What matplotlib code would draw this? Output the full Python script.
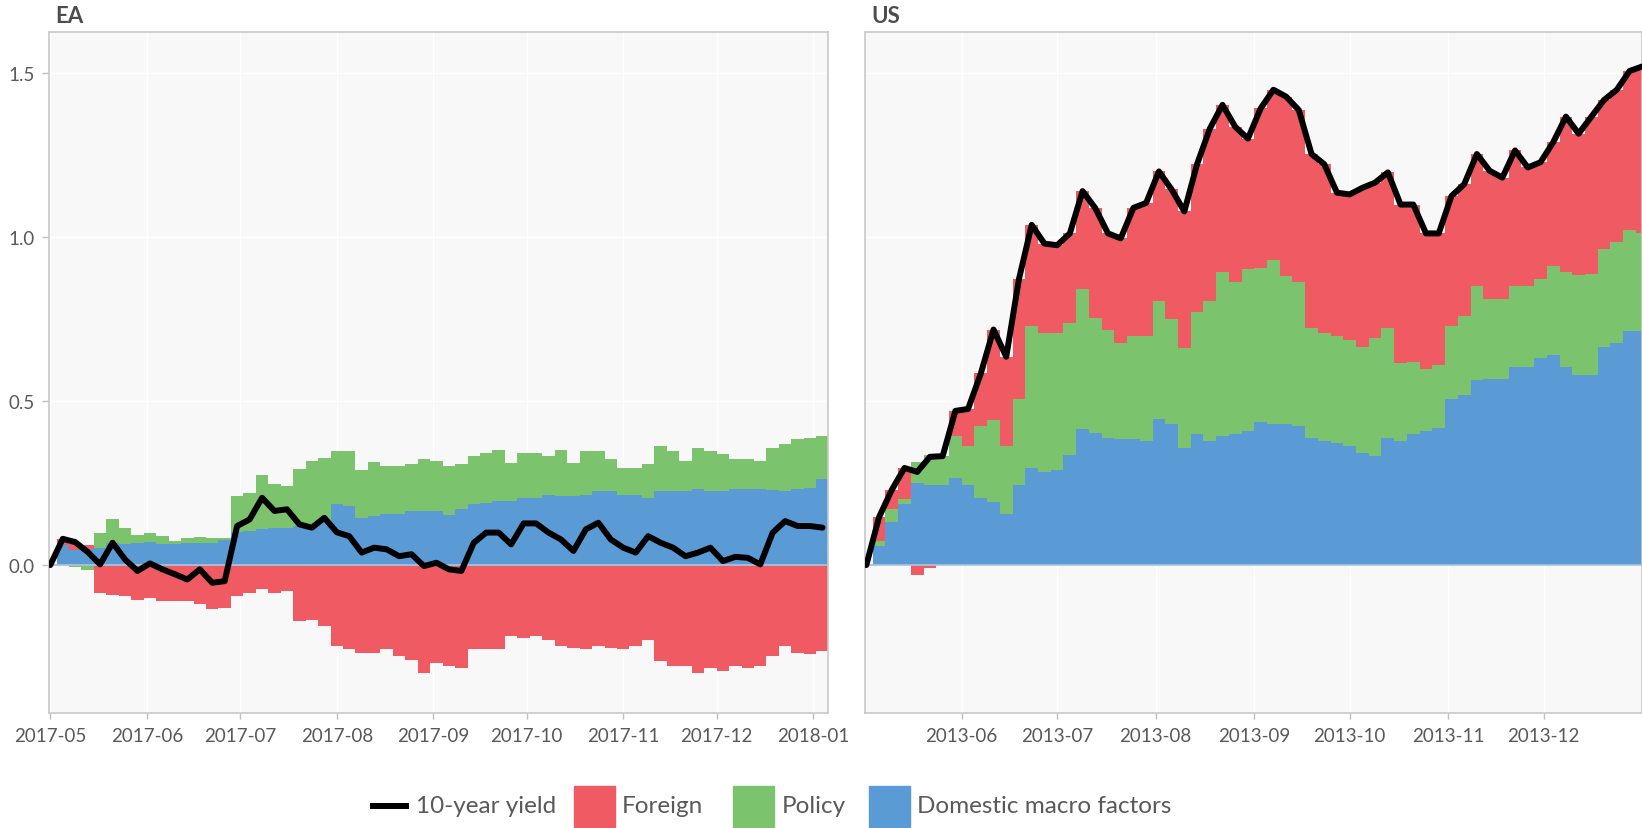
import numpy as np
import pandas as pd
import matplotlib
matplotlib.use("Agg")
import matplotlib.pyplot as plt
import matplotlib.dates as mdates
from matplotlib.lines import Line2D
from matplotlib.patches import Rectangle

plt.rcParams['font.family'] = ['Lato', 'DejaVu Sans']

# ---- EA (every 4 days from 2017-05-01) ----
ea_dates = pd.date_range('2017-05-01', periods=63, freq='4D')
ea_domestic = [0.0, 0.06, 0.045, 0.05, 0.053, 0.068, 0.063, 0.068, 0.07, 0.063,
               0.063, 0.066, 0.066, 0.068, 0.076, 0.10, 0.104, 0.109, 0.114, 0.114,
               0.119, 0.119, 0.134, 0.185, 0.18, 0.144, 0.15, 0.155, 0.155, 0.165,
               0.165, 0.165, 0.154, 0.17, 0.185, 0.19, 0.195, 0.195, 0.205, 0.205,
               0.215, 0.21, 0.21, 0.215, 0.226, 0.226, 0.215, 0.215, 0.205, 0.226,
               0.226, 0.226, 0.231, 0.226, 0.226, 0.231, 0.231, 0.231, 0.229, 0.226,
               0.231, 0.236, 0.261]
ea_policy = [0.0, 0.0, -0.005, -0.015, 0.046, 0.071, 0.051, 0.025, 0.028, 0.025,
             0.01, 0.017, 0.02, 0.015, 0.007, 0.11, 0.117, 0.167, 0.132, 0.127,
             0.173, 0.198, 0.193, 0.163, 0.168, 0.147, 0.163, 0.147, 0.147, 0.142,
             0.157, 0.152, 0.147, 0.137, 0.147, 0.152, 0.157, 0.117, 0.137, 0.137,
             0.117, 0.142, 0.102, 0.132, 0.122, 0.097, 0.081, 0.081, 0.102, 0.137,
             0.122, 0.091, 0.127, 0.122, 0.112, 0.091, 0.091, 0.086, 0.129, 0.142,
             0.152, 0.152, 0.132]
ea_foreign = [0.0, 0.02, 0.02, 0.01, -0.084, -0.09, -0.095, -0.105, -0.10, -0.11,
              -0.11, -0.11, -0.12, -0.135, -0.13, -0.095, -0.084, -0.074, -0.084, -0.08,
              -0.17, -0.166, -0.186, -0.247, -0.257, -0.267, -0.267, -0.257, -0.277, -0.288,
              -0.328, -0.298, -0.308, -0.313, -0.257, -0.257, -0.257, -0.216, -0.222, -0.216,
              -0.227, -0.247, -0.252, -0.257, -0.247, -0.252, -0.257, -0.247, -0.227, -0.293,
              -0.308, -0.308, -0.328, -0.313, -0.323, -0.308, -0.313, -0.308, -0.277, -0.247,
              -0.267, -0.272, -0.262]
ea_yield = [0.0, 0.08, 0.07, 0.04, 0.002, 0.068, 0.017, -0.018, 0.005, -0.013,
            -0.028, -0.044, -0.013, -0.054, -0.049, 0.119, 0.139, 0.205, 0.165, 0.17,
            0.124, 0.114, 0.144, 0.10, 0.088, 0.038, 0.053, 0.048, 0.027, 0.033,
            -0.003, 0.007, -0.013, -0.018, 0.068, 0.099, 0.099, 0.063, 0.127, 0.127,
            0.099, 0.078, 0.043, 0.109, 0.129, 0.078, 0.053, 0.038, 0.088, 0.068,
            0.053, 0.027, 0.038, 0.053, 0.012, 0.025, 0.022, 0.002, 0.099, 0.134,
            0.119, 0.119, 0.114]

# ---- US (every 4 days from 2013-05-02) ----
us_dates = pd.date_range('2013-05-02', periods=62, freq='4D')
us_domestic = [0.0, 0.059, 0.131, 0.187, 0.249, 0.244, 0.244, 0.265, 0.244, 0.203,
               0.193, 0.157, 0.244, 0.296, 0.285, 0.290, 0.337, 0.414, 0.404, 0.388,
               0.383, 0.383, 0.378, 0.445, 0.430, 0.357, 0.399, 0.378, 0.393, 0.399,
               0.409, 0.435, 0.430, 0.429, 0.424, 0.388, 0.378, 0.373, 0.363, 0.342,
               0.332, 0.388, 0.378, 0.399, 0.409, 0.419, 0.507, 0.517, 0.563, 0.568,
               0.568, 0.605, 0.605, 0.630, 0.640, 0.605, 0.579, 0.579, 0.666, 0.677,
               0.713, 0.713]
us_policy = [0.0, 0.015, 0.040, 0.015, 0.065, 0.090, 0.088, 0.129, 0.120, 0.221,
             0.250, 0.206, 0.262, 0.432, 0.422, 0.417, 0.402, 0.427, 0.350, 0.330,
             0.293, 0.314, 0.319, 0.360, 0.319, 0.304, 0.371, 0.427, 0.500, 0.463,
             0.494, 0.472, 0.500, 0.453, 0.438, 0.335, 0.329, 0.326, 0.324, 0.324,
             0.360, 0.335, 0.237, 0.221, 0.190, 0.190, 0.221, 0.242, 0.288, 0.242,
             0.242, 0.247, 0.247, 0.242, 0.273, 0.288, 0.306, 0.309, 0.298, 0.309,
             0.309, 0.300]
us_foreign = [0.0, 0.072, 0.058, 0.094, -0.030, -0.010, 0.0, 0.076, 0.112, 0.160,
              0.275, 0.272, 0.366, 0.309, 0.273, 0.268, 0.272, 0.300, 0.334, 0.293,
              0.320, 0.392, 0.407, 0.395, 0.396, 0.417, 0.452, 0.525, 0.510, 0.474,
              0.397, 0.485, 0.519, 0.546, 0.525, 0.530, 0.515, 0.436, 0.443, 0.484,
              0.474, 0.474, 0.484, 0.479, 0.412, 0.402, 0.397, 0.402, 0.402, 0.392,
              0.371, 0.412, 0.360, 0.356, 0.376, 0.474, 0.430, 0.479, 0.454, 0.463,
              0.484, 0.507]
us_yield = [0.0, 0.146, 0.229, 0.296, 0.284, 0.330, 0.332, 0.470, 0.476, 0.584,
            0.718, 0.635, 0.872, 1.037, 0.980, 0.975, 1.011, 1.140, 1.088, 1.011,
            0.996, 1.089, 1.104, 1.200, 1.145, 1.078, 1.222, 1.330, 1.403, 1.336,
            1.300, 1.392, 1.449, 1.428, 1.387, 1.253, 1.222, 1.135, 1.130, 1.150,
            1.166, 1.197, 1.099, 1.099, 1.011, 1.011, 1.125, 1.161, 1.253, 1.202,
            1.181, 1.264, 1.212, 1.228, 1.289, 1.367, 1.315, 1.367, 1.418, 1.449,
            1.506, 1.520]

series_names = ['Domestic macro factors', 'Policy', 'Foreign']
colors = {'Foreign': '#F05A63', 'Policy': '#7CC36E', 'Domestic macro factors': '#5B9BD5'}
text_color = '#595959'

W, H = 1642, 829
fig = plt.figure(figsize=(W / 100, H / 100), dpi=100)
ax_ea = fig.add_axes([49 / W, 115 / H, 779 / W, 681 / H])
ax_us = fig.add_axes([865 / W, 115 / H, 777 / W, 681 / H])


def draw(ax, dates, comps, yld, x0, x1, title, show_y):
    x = mdates.date2num(dates)
    pos = np.zeros(len(x))
    neg = np.zeros(len(x))
    for name, vals in zip(series_names, comps):
        v = np.array(vals)
        bottom = np.where(v >= 0, pos, neg)
        ax.bar(x, v, bottom=bottom, width=4.0, color=colors[name],
               linewidth=0, zorder=2)
        pos = pos + np.clip(v, 0, None)
        neg = neg + np.clip(v, None, 0)
    ax.axhline(0, color='#a9c1dc', lw=1.3, zorder=3)
    ax.plot(x, yld, color='black', lw=4.3, solid_joinstyle='round',
            solid_capstyle='round', zorder=4)

    ax.set_facecolor('#f8f8f8')
    ax.set_xlim(mdates.date2num(pd.Timestamp(x0)), mdates.date2num(pd.Timestamp(x1)))
    ax.set_ylim(-0.451, 1.625)
    ax.set_yticks([0.0, 0.5, 1.0, 1.5])
    ax.yaxis.set_major_formatter(plt.FuncFormatter(lambda v, p: f'{v:.1f}'))
    ax.xaxis.set_major_locator(mdates.MonthLocator())
    ax.xaxis.set_major_formatter(mdates.DateFormatter('%Y-%m'))
    ax.grid(True, color='white', lw=1.0, zorder=0)
    ax.set_axisbelow(True)
    for s in ax.spines.values():
        s.set_color('#c8c8c8')
        s.set_linewidth(1.2)
    ax.tick_params(axis='x', length=4, width=1, color='#c0c0c0',
                   labelcolor=text_color, labelsize=13.5, pad=6)
    ax.tick_params(axis='y', length=5, width=1, color='#c0c0c0',
                   labelcolor=text_color, labelsize=13.5, pad=5)
    if not show_y:
        ax.tick_params(axis='y', left=False, labelleft=False)
    ax.text(0.008, 1.009, title, transform=ax.transAxes, ha='left', va='bottom',
            fontsize=16, fontweight='bold', color='#4d4d4d')


draw(ax_ea, ea_dates, [ea_domestic, ea_policy, ea_foreign], ea_yield,
     '2017-04-30 14:00', '2018-01-05 18:00', 'EA', True)
draw(ax_us, us_dates, [us_domestic, us_policy, us_foreign], us_yield,
     '2013-05-01 14:00', '2013-12-31 22:00', 'US', False)

# ---- legend, laid out by hand along the bottom ----
yc = (H - 807) / H
fig.add_artist(Line2D([373 / W, 406 / W], [yc, yc], color='black', lw=4.3,
                      transform=fig.transFigure))
fig.text(416 / W, yc, '10-year yield', ha='left', va='center',
         fontsize=17.5, color=text_color)
legend_items = [('Foreign', 574, 622), ('Policy', 733, 782),
                ('Domestic macro factors', 869, 917)]
for name, px, tx in legend_items:
    fig.add_artist(Rectangle((px / W, (H - 828) / H), 41 / W, 41 / H,
                             color=colors[name], transform=fig.transFigure))
    fig.text(tx / W, yc, name, ha='left', va='center',
             fontsize=17.5, color=text_color)

plt.savefig('out.png', dpi=100)
